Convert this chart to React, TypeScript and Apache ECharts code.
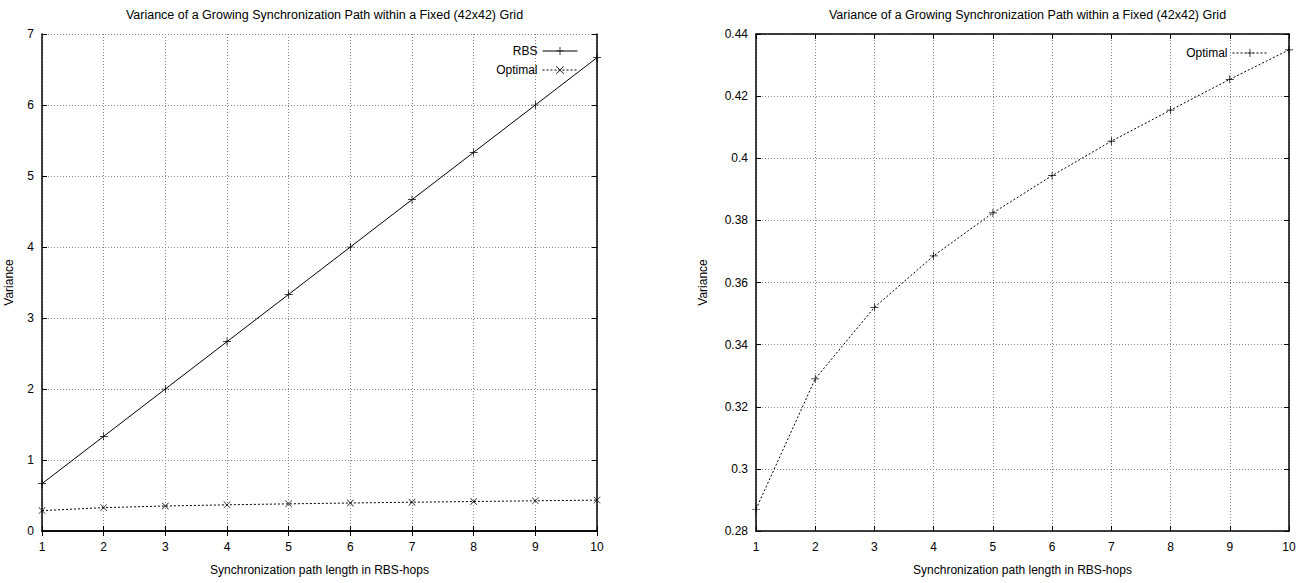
import React, { useEffect, useRef } from "react";
import * as echarts from "echarts";

const hops = [1, 2, 3, 4, 5, 6, 7, 8, 9, 10];
const rbsVariance = [0.667, 1.333, 2.0, 2.667, 3.333, 4.0, 4.667, 5.333, 6.0, 6.667];
const optimalVariance = [0.287, 0.329, 0.352, 0.3686, 0.3824, 0.3944, 0.4055, 0.4155, 0.4254, 0.4349];

const titleText = "Variance of a Growing Synchronization Path within a Fixed (42x42) Grid";
const xName = "Synchronization path length in RBS-hops";
const yName = "Variance";

const PLUS = "path://M4.55,0 H5.45 V4.55 H10 V5.45 H5.45 V10 H4.55 V5.45 H0 V4.55 H4.55 Z";
const CROSS = "path://M0,0.6 L0.6,0 L5,4.4 L9.4,0 L10,0.6 L5.6,5 L10,9.4 L9.4,10 L5,5.6 L0.6,10 L0,9.4 L4.4,5 Z";

const FONT = "Liberation Sans, Arial, sans-serif";

export default function App() {
  const ref = useRef<HTMLDivElement>(null);
  useEffect(() => {
    document.body.style.margin = "0";
    if (!ref.current) return;
    const chart = echarts.init(ref.current, null, { renderer: "svg" });
    const pairs = (ys: number[]) => hops.map((x, i) => [x, ys[i]]);

    const grids = [
      { left: 42, right: 708, top: 34, bottom: 52 },
      { left: 756, right: 16, top: 34, bottom: 52 },
    ];

    const gridLine = { show: true, lineStyle: { color: "#888", type: [1, 2] as any, width: 1 } };
    const label = { color: "#000", fontFamily: FONT, fontSize: 12 };

    const xAxes: any[] = [];
    const yAxes: any[] = [];
    [0, 1].forEach((g) => {
      xAxes.push({
        type: "value", gridIndex: g, min: 1, max: 10, interval: 1,
        name: xName, nameLocation: "middle", nameGap: 33,
        nameTextStyle: { color: "#000", fontFamily: FONT, fontSize: 12 },
        axisLine: { lineStyle: { color: "#000", width: 1.5 } },
        axisTick: { inside: true, length: 5, lineStyle: { color: "#000" } },
        axisLabel: { ...label, margin: 10 },
        splitLine: gridLine,
      });
      xAxes.push({
        type: "value", gridIndex: g, position: "top", min: 1, max: 10, interval: 1,
        axisLine: { lineStyle: { color: "#000", width: 1.5 } },
        axisTick: { inside: true, length: 5, lineStyle: { color: "#000" } },
        axisLabel: { show: false }, splitLine: { show: false },
      });
    });
    const yCfg = [
      { min: 0, max: 7, interval: 1, gap: 27 },
      { min: 0.28, max: 0.44, interval: 0.02, gap: 47 },
    ];
    yCfg.forEach((c, g) => {
      yAxes.push({
        type: "value", gridIndex: g, min: c.min, max: c.max, interval: c.interval,
        name: yName, nameLocation: "middle", nameGap: c.gap, nameRotate: 90,
        nameTextStyle: { color: "#000", fontFamily: FONT, fontSize: 12 },
        axisLine: { show: true, lineStyle: { color: "#000", width: 1.5 } },
        axisTick: { show: true, inside: true, length: 5, lineStyle: { color: "#000" } },
        axisLabel: { ...label, margin: 8 },
        splitLine: gridLine,
      });
      yAxes.push({
        type: "value", gridIndex: g, position: "right", min: c.min, max: c.max, interval: c.interval,
        axisLine: { show: true, lineStyle: { color: "#000", width: 1.5 } },
        axisTick: { show: true, inside: true, length: 5, lineStyle: { color: "#000" } },
        axisLabel: { show: false }, splitLine: { show: false },
      });
    });

    const legendText = { color: "#000", fontFamily: FONT, fontSize: 12 };

    chart.setOption({
      animation: false,
      backgroundColor: "#fff",
      title: [
        { text: titleText, left: 319.5, textAlign: "center", top: 3,
          textStyle: { color: "#000", fontFamily: FONT, fontSize: 12.5, fontWeight: "normal" } },
        { text: titleText, left: 1022.5, textAlign: "center", top: 3,
          textStyle: { color: "#000", fontFamily: FONT, fontSize: 12.5, fontWeight: "normal" } },
      ],
      legend: [
        {
          data: ["RBS", "Optimal"], orient: "vertical", align: "right",
          right: 722, top: 40, itemWidth: 35, itemHeight: 10, itemGap: 7,
          textStyle: legendText, lineStyle: { width: 1 }, selectedMode: false,
        },
        {
          data: ["Optimal (right)"], orient: "vertical", align: "right",
          right: 32, top: 42, itemWidth: 35, itemHeight: 10,
          formatter: () => "Optimal",
          textStyle: legendText, lineStyle: { width: 1 }, selectedMode: false,
        },
      ],
      grid: grids,
      xAxis: xAxes,
      yAxis: yAxes,
      series: [
        {
          name: "RBS", type: "line", xAxisIndex: 0, yAxisIndex: 0,
          data: pairs(rbsVariance), symbol: PLUS, symbolSize: 8,
          lineStyle: { color: "#000", width: 1 }, itemStyle: { color: "#000" },
        },
        {
          name: "Optimal", type: "line", xAxisIndex: 0, yAxisIndex: 0,
          data: pairs(optimalVariance), symbol: CROSS, symbolSize: 7,
          lineStyle: { color: "#000", width: 1, type: [2, 2] }, itemStyle: { color: "#000" },
        },
        {
          name: "Optimal (right)", type: "line", xAxisIndex: 2, yAxisIndex: 2,
          data: pairs(optimalVariance), symbol: PLUS, symbolSize: 8,
          lineStyle: { color: "#000", width: 1, type: [2, 2] }, itemStyle: { color: "#000" },
        },
      ],
    });
    return () => chart.dispose();
  }, []);
  return <div ref={ref} style={{ width: 1305, height: 583 }} />;
}
